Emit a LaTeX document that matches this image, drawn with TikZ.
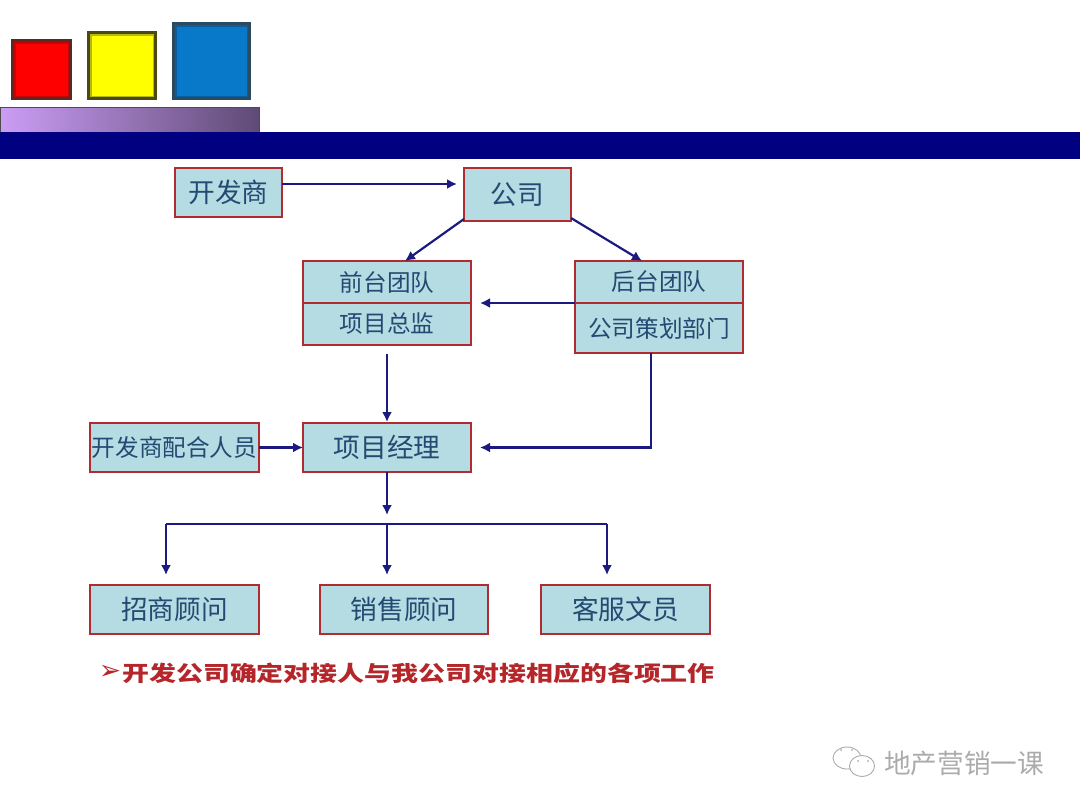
\documentclass[tikz,border=0pt]{standalone}
\usepackage{fontspec}
\usepackage{xcolor}
\setmainfont{Noto Sans CJK SC}
\newfontfamily\symfont{DejaVu Sans}
\usetikzlibrary{calc,positioning,arrows.meta,shapes.geometric}
\definecolor{boxfill}{HTML}{B5DCE2}
\definecolor{boxline}{HTML}{B02C30}
\definecolor{boxtext}{HTML}{234A72}
\definecolor{arrline}{HTML}{1A1A80}
\definecolor{navybar}{HTML}{000080}
\definecolor{notered}{HTML}{B4262A}
\definecolor{markgray}{HTML}{ABABAB}
\definecolor{fadeleft}{HTML}{CB9DF5}
\definecolor{faderight}{HTML}{5F4A75}
\definecolor{cubered}{HTML}{FF0000}
\definecolor{cuberededge}{HTML}{5A2A22}
\definecolor{cuberedband}{HTML}{C00808}
\definecolor{cubeyellow}{HTML}{FFFF00}
\definecolor{cubeyellowedge}{HTML}{4A4A14}
\definecolor{cubeyellowband}{HTML}{B8B810}
\definecolor{cubeblue}{HTML}{0878C8}
\definecolor{cubeblueedge}{HTML}{2A4A60}
\definecolor{cubeblueband}{HTML}{0A5E9E}
\newlength{\unitpx}
\setlength{\unitpx}{0.75pt}
\tikzset{
  x = \unitpx, y = -\unitpx,
  box/.style = {draw=boxline,fill=boxfill,line width=2.8\unitpx,text=boxtext,inner sep=0pt,outer sep=0pt,anchor=center},
  bigbox/.style = {box,font=\fontsize{20}{20}\selectfont,minimum width=169\unitpx,minimum height=49\unitpx},
  smallbox/.style = {box,font=\fontsize{17.7}{18}\selectfont,minimum width=168\unitpx,minimum height=42\unitpx},
  arrplain/.style = {draw=arrline,line width=2.2\unitpx},
  arr/.style = {arrplain,-{Latex[length=7.5pt,width=7.5pt]}},
  cube/.style n args = {3}{draw=#2,fill=#1,line width=3\unitpx,inner sep=0pt,outer sep=0pt,anchor=south west,
    path picture={\draw[#3,line width=6\unitpx] (path picture bounding box.south west) rectangle (path picture bounding box.north east);}},
  bubble/.style = {draw=markgray,line width=0.9\unitpx,ellipse,inner sep=0pt},
  eye/.style = {fill=markgray,circle,inner sep=0pt,minimum size=2\unitpx}
}

\begin{document}
\begin{tikzpicture}
\useasboundingbox (0,0) rectangle (1080,810);

% header
\node[cube={cubered}{cuberededge}{cuberedband},minimum width=58\unitpx,minimum height=58\unitpx] (redcube) at (12.5,98.5) {};
\node[cube={cubeyellow}{cubeyellowedge}{cubeyellowband},minimum width=67\unitpx,minimum height=66\unitpx] (yellowcube) at (88.5,98.5) {};
\node[cube={cubeblue}{cubeblueedge}{cubeblueband},minimum width=76\unitpx,minimum height=75\unitpx] (bluecube) at (173.5,98.5) {};
\node[draw=black!70,left color=fadeleft,right color=faderight,line width=0.8\unitpx,minimum width=259\unitpx,minimum height=25\unitpx,inner sep=0pt,outer sep=0pt,anchor=north west] (fadebar) at (0.5,107.5) {};
\node[fill=navybar,minimum width=1080\unitpx,minimum height=27\unitpx,inner sep=0pt,outer sep=0pt,anchor=north west] (navy) at (0,132) {};

% boxes
\node[bigbox,minimum width=107\unitpx,minimum height=49\unitpx] (dev) at (228.5,192.5) {开发商};
\node[bigbox,minimum width=107\unitpx,minimum height=53\unitpx,right=182\unitpx of dev.north east,anchor=north west] (firm) {公司};

\node[smallbox] (fronttop) at (387,282) {前台团队};
\node[smallbox,below=0pt of fronttop] (frontlow) {项目总监};
\node[smallbox,right=104\unitpx of fronttop] (backtop) {后台团队};
\node[smallbox,minimum height=50\unitpx,below=0pt of backtop] (backlow) {公司策划部门};

\node[bigbox,minimum width=168\unitpx,below=78\unitpx of frontlow] (manager) {项目经理};
\node[bigbox,font=\fontsize{17.7}{18}\selectfont,left=44\unitpx of manager] (liaison) {开发商配合人员}
  edge[arr] (manager);

\node[bigbox,minimum width=168\unitpx] (sales) at (404,609.5) {销售顾问};
\node[bigbox,left=61\unitpx of sales] (lease) {招商顾问};
\node[bigbox,right=53\unitpx of sales] (service) {客服文员};

% connectors
\draw[arr] ([yshift=8.5\unitpx]dev.east) -- ([xshift=-7\unitpx,yshift=10.5\unitpx]firm.west);
\draw[arr] ([yshift=2\unitpx]firm.south west) -- ([xshift=18\unitpx]fronttop.north);
\draw[arr] ([yshift=3\unitpx]firm.south east) -- ([xshift=-17\unitpx]backtop.north);
\draw[arr] (backtop.south west) -- ([xshift=9\unitpx]fronttop.south east);
\draw[arr,shorten <=9\unitpx,shorten >=1\unitpx] (frontlow.south) -- (manager.north);
\draw[arr] ([xshift=-8\unitpx]backlow.south) |- ([xshift=9\unitpx]manager.east);

\coordinate (busl) at (166,524);
\coordinate (busm) at (387,524);
\coordinate (busr) at (607,524);
\draw[arrplain] (busl) -- (busr);
\draw[arr,shorten >=9\unitpx] (manager.south) -- (busm);
\draw[arr,shorten >=10\unitpx] (busl) -- (busl |- lease.north);
\draw[arr,shorten >=10\unitpx] (busm) -- (busm |- sales.north);
\draw[arr,shorten >=10\unitpx] (busr) -- (busr |- service.north);

% note
\node[text=notered,font=\symfont\fontsize{20}{20}\selectfont,inner sep=0pt] (notemark) at (110,672) {➢};
\node[text=notered,anchor=west,inner sep=0pt,font=\bfseries\fontsize{20}{20}\selectfont] (note) at (122,673)
  {\scalebox{1.01}[0.8]{开发公司确定对接人与我公司对接相应的各项工作}};

% mark
\node[bubble,minimum width=28\unitpx,minimum height=22\unitpx] (bubbleback) at (847,758) {};
\node[bubble,fill=white,minimum width=25\unitpx,minimum height=21\unitpx] (bubblefront) at (862,766) {};
\node[eye] (eyea) at (841,750) {};
\node[eye] (eyeb) at (852,750) {};
\node[eye] (eyec) at (858,761) {};
\node[eye] (eyed) at (868,761) {};
\node[text=markgray,anchor=west,inner sep=0pt,font=\fontsize{20}{20}\selectfont] (brand) at (884,763) {地产营销一课};
\end{tikzpicture}
\end{document}
